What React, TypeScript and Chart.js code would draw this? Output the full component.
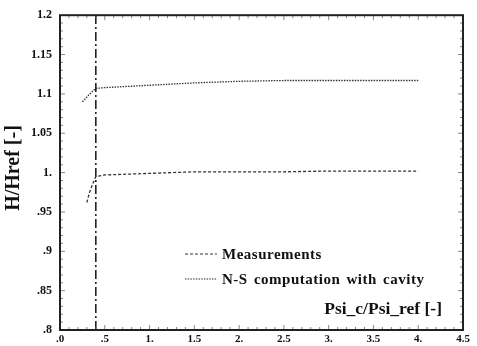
import React, { useEffect, useRef } from "react";
import { Chart, registerables } from "chart.js";
Chart.register(...registerables);

const measX = [0.3, 0.33, 0.36, 0.4, 0.5, 0.75, 1.0, 1.5, 2.0, 2.5, 3.0, 3.5, 4.0];
const measY = [0.962, 0.975, 0.984, 0.995, 0.997, 0.998, 0.999, 1.001, 1.001, 1.001, 1.002, 1.002, 1.002];
const nsX = [0.25, 0.3, 0.35, 0.4, 0.5, 1.0, 1.5, 2.0, 2.5, 3.0, 3.5, 4.0];
const nsY = [1.09, 1.096, 1.102, 1.107, 1.108, 1.111, 1.114, 1.116, 1.117, 1.117, 1.117, 1.117];
const cavityX = [0.4, 0.4];
const cavityY = [0.8, 1.2];
const xTickLabels: Record<string, string> = { "0": ".0", "0.5": ".5", "1": "1.", "1.5": "1.5", "2": "2.", "2.5": "2.5", "3": "3.", "3.5": "3.5", "4": "4.", "4.5": "4.5" };
const yTickLabels: Record<string, string> = { "0.8": ".8", "0.85": ".85", "0.9": ".9", "0.95": ".95", "1": "1.", "1.05": "1.05", "1.1": "1.1", "1.15": "1.15", "1.2": "1.2" };
const legendLabels = ["Measurements", "N-S computation with cavity"];
const xTitle = "Psi_c/Psi_ref [-]";
const yTitle = "H/Href [-]";

const SERIF = "'Liberation Serif', 'Times New Roman', serif";

const decor = {
  id: "decor",
  afterDraw(chart: any) {
    const ctx = chart.ctx;
    const a = chart.chartArea;
    const xs = chart.scales.x;
    const ys = chart.scales.y;
    ctx.save();
    // minor inward ticks
    ctx.strokeStyle = "#666";
    ctx.lineWidth = 0.8;
    for (let i = 1; i < 45; i++) {
      const v = i / 10;
      const px = xs.getPixelForValue(v);
      const len = i % 5 === 0 ? 5 : 3;
      ctx.beginPath();
      ctx.moveTo(px, a.bottom);
      ctx.lineTo(px, a.bottom - len);
      ctx.moveTo(px, a.top);
      ctx.lineTo(px, a.top + len);
      ctx.stroke();
    }
    for (let i = 1; i < 40; i++) {
      const v = 0.8 + i / 100;
      const py = ys.getPixelForValue(v);
      const len = i % 5 === 0 ? 5 : 3;
      ctx.beginPath();
      ctx.moveTo(a.left, py);
      ctx.lineTo(a.left + len, py);
      ctx.moveTo(a.right, py);
      ctx.lineTo(a.right - len, py);
      ctx.stroke();
    }
    // frame
    ctx.strokeStyle = "#222";
    ctx.lineWidth = 2;
    ctx.strokeRect(a.left, a.top, a.right - a.left, a.bottom - a.top);
    // legend
    ctx.fillStyle = "#111";
    ctx.font = `bold 15px ${SERIF}`;
    ctx.textBaseline = "middle";
    ctx.textAlign = "left";
    (ctx as any).wordSpacing = "2px";
    (ctx as any).letterSpacing = "0.5px";
    const lx = 185;
    const ly = [254, 279];
    const dashes = [[3, 2], [1.5, 1.2]];
    for (let i = 0; i < 2; i++) {
      ctx.strokeStyle = "#333";
      ctx.lineWidth = 1.2;
      ctx.setLineDash(dashes[i]);
      ctx.beginPath();
      ctx.moveTo(lx, ly[i]);
      ctx.lineTo(lx + 32, ly[i]);
      ctx.stroke();
      ctx.setLineDash([]);
      ctx.fillText(legendLabels[i], lx + 37, ly[i] + 1);
    }
    (ctx as any).wordSpacing = "0px";
    (ctx as any).letterSpacing = "0px";
    // x title
    ctx.font = `bold 17.5px ${SERIF}`;
    ctx.textAlign = "right";
    ctx.fillText(xTitle, 442, 309);
    // y title
    ctx.font = `bold 20px ${SERIF}`;
    ctx.translate(13, 168);
    ctx.rotate(-Math.PI / 2);
    ctx.textAlign = "center";
    ctx.fillText(yTitle, 0, 1);
    ctx.restore();
  },
};

export default function App() {
  const ref = useRef<HTMLCanvasElement>(null);
  useEffect(() => {
    document.body.style.margin = "0";
    const toPts = (xs: number[], ys: number[]) => xs.map((x, i) => ({ x, y: ys[i] }));
    const chart = new Chart(ref.current!, {
      type: "scatter",
      data: {
        datasets: [
          {
            label: legendLabels[0],
            data: toPts(measX, measY),
            showLine: true,
            borderColor: "#333",
            borderWidth: 1.3,
            borderDash: [3, 2],
            pointRadius: 0,
          },
          {
            label: legendLabels[1],
            data: toPts(nsX, nsY),
            showLine: true,
            borderColor: "#333",
            borderWidth: 1.3,
            borderDash: [1.5, 1.2],
            pointRadius: 0,
          },
          {
            label: "cavity",
            data: toPts(cavityX, cavityY),
            showLine: true,
            borderColor: "#222",
            borderWidth: 1.6,
            borderDash: [9, 3, 2, 3],
            pointRadius: 0,
          },
        ],
      },
      options: {
        animation: false,
        responsive: false,
        layout: { padding: { left: 0, right: 14, top: 11, bottom: 0 } },
        plugins: { legend: { display: false }, tooltip: { enabled: false } },
        scales: {
          x: {
            type: "linear",
            min: 0,
            max: 4.5,
            grid: { display: false, drawTicks: false },
            border: { display: false },
            afterFit: (s: any) => { s.height = 16; },
            ticks: {
              stepSize: 0.5,
              maxRotation: 0,
              padding: 3,
              color: "#111",
              font: { family: SERIF, size: 11, weight: "bold" },
              callback: (v: any) => xTickLabels[String(Math.round(Number(v) * 10) / 10)] ?? "",
            },
          },
          y: {
            type: "linear",
            min: 0.8,
            max: 1.2,
            grid: { display: false, drawTicks: false },
            border: { display: false },
            afterFit: (s: any) => { s.width = 60; },
            ticks: {
              stepSize: 0.05,
              padding: 8,
              color: "#111",
              font: { family: SERIF, size: 12, weight: "bold" },
              callback: (v: any) => yTickLabels[String(Math.round(Number(v) * 100) / 100)] ?? "",
            },
          },
        },
      },
      plugins: [decor],
    });
    return () => chart.destroy();
  }, []);
  return (
    <div style={{ position: "absolute", left: 0, top: 0, width: 477, height: 346 }}>
      <canvas ref={ref} width={477} height={346} style={{ width: 477, height: 346 }} />
    </div>
  );
}
